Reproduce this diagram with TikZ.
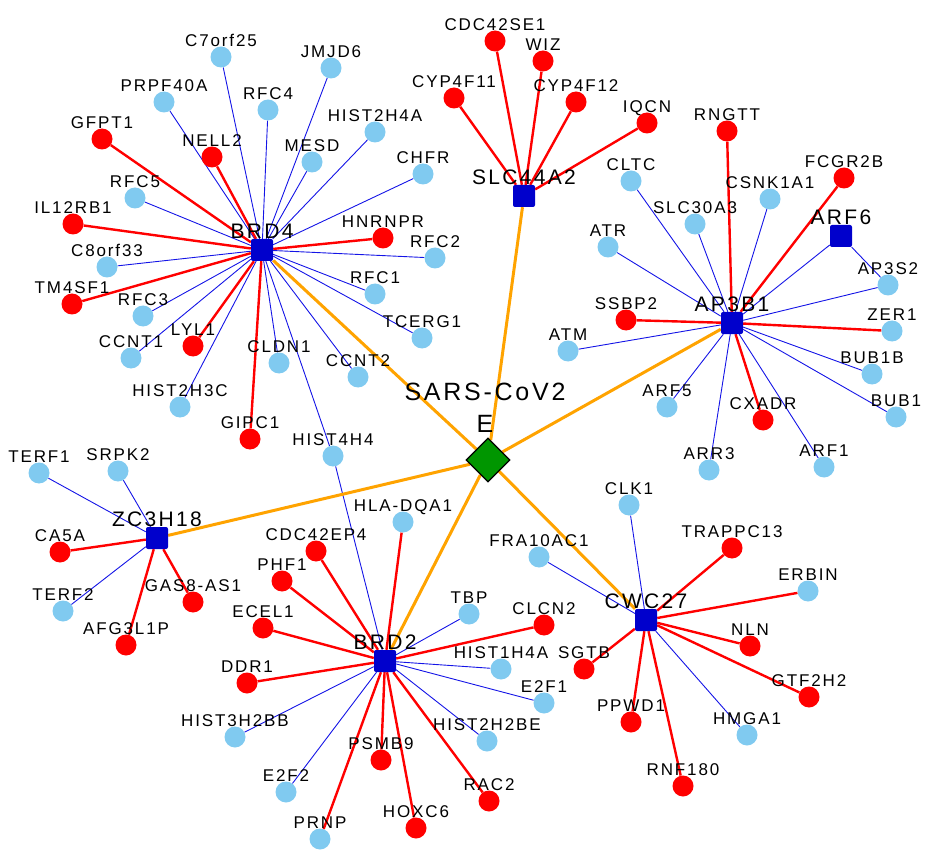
\documentclass[tikz,border=0pt]{standalone}
\usepackage{fontspec}
\usetikzlibrary{shapes.geometric,backgrounds}
\newfontfamily\genefont{Liberation Sans}[LetterSpace=11]
\definecolor{lblue}{RGB}{128,202,240}
\definecolor{hubblue}{RGB}{0,0,204}
\definecolor{sgreen}{RGB}{0,150,0}
\definecolor{eorange}{RGB}{255,163,0}
\definecolor{eblue}{RGB}{20,20,230}
\begin{document}
\begin{tikzpicture}[x=1pt,y=-1pt,
  lbl/.style={font=\genefont\fontsize{17}{20}\selectfont, text depth=0pt, inner sep=0pt},
  hlbl/.style={font=\genefont\fontsize{21}{24}\selectfont, text depth=0pt, inner sep=0pt},
  slbl/.style={font=\genefont\fontsize{25}{30}\selectfont, text depth=0pt, inner sep=0pt},
  lb/.style={circle, fill=lblue, minimum size=21pt, inner sep=0pt, label distance=4.5pt},
  rd/.style={circle, fill=red, minimum size=21pt, inner sep=0pt, label distance=4.5pt},
  hub/.style={rectangle, fill=hubblue, minimum size=22pt, inner sep=0pt, rounded corners=2pt, label distance=3.5pt},
  virus/.style={diamond, aspect=1, fill=sgreen, draw=black, line width=1.2pt, minimum size=44pt, inner sep=0pt},
  be/.style={draw=eblue, line width=0.9pt},
  re/.style={draw=red, line width=2.4pt},
  oe/.style={draw=eorange, line width=3pt}
]
\useasboundingbox (0,0) rectangle (927,853);
\newcommand\gene[4]{\node[#1, label={[lbl]above:#4}] (#4) at (#2,#3) {};}
\newcommand\hubnode[4]{\node[hub, label={[hlbl]above:#4}] (#1) at (#2,#3) {};}
% virus
\node[virus] (SARS) at (488,460) {};
\node[slbl, anchor=base] (sarsA) at (485,400) {SARS-CoV2};
\node[slbl, anchor=base] (sarsB) at (485,432) {E};
% hubs
\hubnode{BRD4}{262}{250}{BRD4}
\hubnode{SLC44A2}{524}{196}{SLC44A2}
\hubnode{AP3B1}{732}{323}{AP3B1}
\hubnode{ARF6}{841}{236}{ARF6}
\hubnode{ZC3H18}{157}{538}{ZC3H18}
\hubnode{BRD2}{385}{661}{BRD2}
\hubnode{CWC27}{646}{620}{CWC27}
% BRD4 partners
\gene{lb}{221}{57}{C7orf25}
\gene{lb}{331}{68}{JMJD6}
\gene{lb}{164}{102}{PRPF40A}
\gene{lb}{268}{110}{RFC4}
\gene{rd}{102}{139}{GFPT1}
\gene{rd}{212}{157}{NELL2}
\gene{lb}{375}{132}{HIST2H4A}
\gene{lb}{312}{162}{MESD}
\gene{lb}{423}{174}{CHFR}
\gene{lb}{135}{198}{RFC5}
\gene{rd}{73}{224}{IL12RB1}
\gene{rd}{383}{238}{HNRNPR}
\gene{lb}{435}{258}{RFC2}
\gene{lb}{107}{267}{C8orf33}
\gene{rd}{72}{304}{TM4SF1}
\gene{lb}{375}{294}{RFC1}
\gene{lb}{143}{316}{RFC3}
\gene{lb}{422}{338}{TCERG1}
\gene{rd}{193}{346}{LYL1}
\gene{lb}{131}{358}{CCNT1}
\gene{lb}{279}{363}{CLDN1}
\gene{lb}{358}{377}{CCNT2}
\gene{lb}{180}{407}{HIST2H3C}
\gene{rd}{250}{439}{GIPC1}
\gene{lb}{333}{456}{HIST4H4}
% SLC44A2 partners
\gene{rd}{495}{41}{CDC42SE1}
\gene{rd}{543}{61}{WIZ}
\gene{rd}{454}{98}{CYP4F11}
\gene{rd}{576}{102}{CYP4F12}
\gene{rd}{647}{123}{IQCN}
% AP3B1 partners
\gene{rd}{727}{131}{RNGTT}
\gene{lb}{631}{181}{CLTC}
\gene{rd}{844}{178}{FCGR2B}
\gene{lb}{770}{199}{CSNK1A1}
\gene{lb}{695}{224}{SLC30A3}
\gene{lb}{608}{247}{ATR}
\gene{lb}{888}{285}{AP3S2}
\gene{rd}{626}{320}{SSBP2}
\gene{lb}{892}{331}{ZER1}
\gene{lb}{568}{351}{ATM}
\gene{lb}{872}{374}{BUB1B}
\gene{lb}{667}{407}{ARF5}
\gene{rd}{763}{420}{CXADR}
\gene{lb}{896}{417}{BUB1}
\gene{lb}{709}{470}{ARR3}
\gene{lb}{824}{467}{ARF1}
% ZC3H18 partners
\gene{lb}{39}{473}{TERF1}
\gene{lb}{118}{471}{SRPK2}
\gene{rd}{60}{552}{CA5A}
\gene{lb}{63}{611}{TERF2}
\gene{rd}{193}{602}{GAS8-AS1}
\gene{rd}{126}{645}{AFG3L1P}
% BRD2 partners
\gene{lb}{403}{522}{HLA-DQA1}
\gene{rd}{316}{551}{CDC42EP4}
\gene{rd}{282}{581}{PHF1}
\gene{rd}{263}{628}{ECEL1}
\gene{rd}{247}{683}{DDR1}
\gene{lb}{235}{737}{HIST3H2BB}
\gene{lb}{286}{792}{E2F2}
\gene{lb}{320}{839}{PRNP}
\gene{rd}{381}{760}{PSMB9}
\gene{rd}{416}{828}{HOXC6}
\gene{rd}{489}{801}{RAC2}
\gene{lb}{487}{741}{HIST2H2BE}
\gene{lb}{544}{703}{E2F1}
\gene{lb}{501}{669}{HIST1H4A}
\gene{rd}{544}{625}{CLCN2}
\gene{lb}{469}{614}{TBP}
% CWC27 partners
\gene{lb}{629}{505}{CLK1}
\gene{rd}{732}{548}{TRAPPC13}
\gene{lb}{539}{557}{FRA10AC1}
\gene{lb}{808}{591}{ERBIN}
\gene{rd}{750}{646}{NLN}
\gene{rd}{584}{669}{SGTB}
\gene{rd}{809}{697}{GTF2H2}
\gene{rd}{631}{722}{PPWD1}
\gene{lb}{747}{735}{HMGA1}
\gene{rd}{683}{786}{RNF180}
% edges
\begin{scope}[on background layer]
\foreach \n in {C7orf25,JMJD6,PRPF40A,RFC4,HIST2H4A,MESD,CHFR,RFC5,RFC2,C8orf33,RFC1,RFC3,TCERG1,CCNT1,CLDN1,CCNT2,HIST2H3C,HIST4H4}
  \draw[be] (BRD4) -- (\n);
\foreach \n in {GFPT1,NELL2,IL12RB1,HNRNPR,TM4SF1,LYL1,GIPC1}
  \draw[re] (BRD4) -- (\n);
\foreach \n in {CDC42SE1,WIZ,CYP4F11,CYP4F12,IQCN}
  \draw[re] (SLC44A2) -- (\n);
\foreach \n in {CLTC,CSNK1A1,SLC30A3,ARF6,ATR,AP3S2,ATM,BUB1B,ARF5,BUB1,ARR3,ARF1}
  \draw[be] (AP3B1) -- (\n);
\foreach \n in {RNGTT,FCGR2B,SSBP2,ZER1,CXADR}
  \draw[re] (AP3B1) -- (\n);
\draw[be] (ARF6) -- (AP3S2);
\foreach \n in {TERF1,SRPK2,TERF2}
  \draw[be] (ZC3H18) -- (\n);
\foreach \n in {CA5A,GAS8-AS1,AFG3L1P}
  \draw[re] (ZC3H18) -- (\n);
\foreach \n in {HIST4H4,HIST3H2BB,E2F2,HIST2H2BE,E2F1,HIST1H4A,TBP}
  \draw[be] (BRD2) -- (\n);
\foreach \n in {HLA-DQA1,CDC42EP4,PHF1,ECEL1,DDR1,PRNP,PSMB9,HOXC6,RAC2,CLCN2}
  \draw[re] (BRD2) -- (\n);
\foreach \n in {CLK1,FRA10AC1,HMGA1}
  \draw[be] (CWC27) -- (\n);
\foreach \n in {TRAPPC13,ERBIN,NLN,SGTB,GTF2H2,PPWD1,RNF180}
  \draw[re] (CWC27) -- (\n);
\foreach \n in {BRD4,SLC44A2,AP3B1,ZC3H18,BRD2,CWC27}
  \draw[oe] (SARS) -- (\n);
\end{scope}
\end{tikzpicture}
\end{document}
